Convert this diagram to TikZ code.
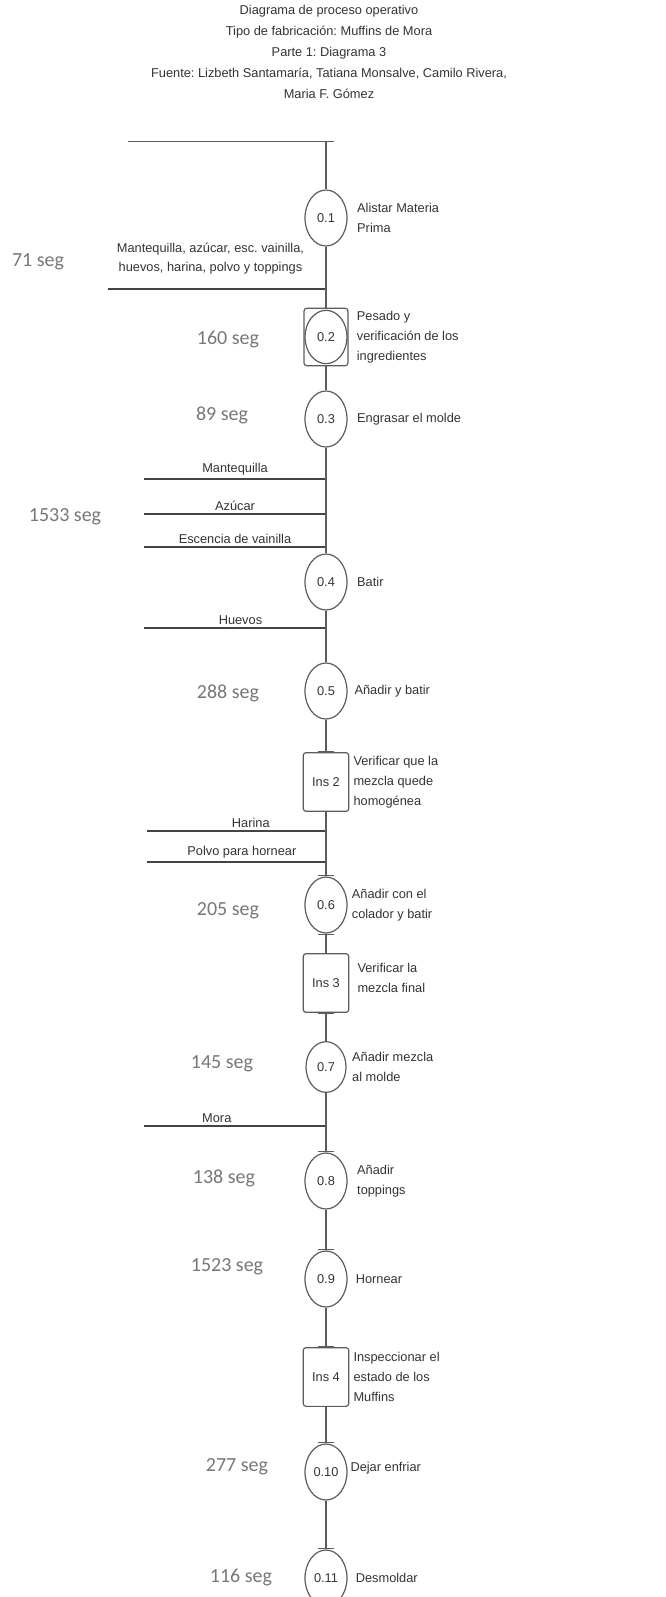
\documentclass[tikz,border=0pt]{standalone}
\usepackage{fontspec}
\setmainfont{Liberation Sans}
\newfontfamily\segfont{Carlito}
\usetikzlibrary{positioning,shapes.geometric,arrows.meta}
\definecolor{textMain}{HTML}{333333}
\definecolor{lineGray}{HTML}{5C5C5C}
\definecolor{inputDark}{HTML}{444444}
\definecolor{segGray}{HTML}{777777}
\frenchspacing

\begin{document}
\begin{tikzpicture}[
    x=0.75pt, y=-0.75pt,
    opnode/.style={ellipse, draw=lineGray, line width=0.9pt, minimum width=31.5pt,
                   minimum height=42pt, inner sep=0pt, text=textMain,
                   font=\fontsize{9.6}{11}\selectfont},
    insnode/.style={rectangle, rounded corners=2pt, draw=lineGray, line width=0.9pt,
                    minimum width=34pt, minimum height=44pt, inner sep=0pt, text=textMain,
                    font=\fontsize{9.6}{11}\selectfont},
    desc/.style={align=left, inner sep=0pt, text=textMain, font=\fontsize{9.6}{15}\selectfont},
    inlabel/.style={above, inner sep=2pt, text=textMain, align=center,
                    font=\fontsize{9.6}{14.5}\selectfont},
    seglabel/.style={text=segGray, font=\segfont\fontsize{15}{18}\selectfont},
    flow/.style={lineGray, line width=0.9pt},
    flowbar/.style={flow, -{Bar[width=12pt, line width=0.7pt]}},
    barflow/.style={flow, {Bar[width=12pt, line width=0.7pt]}-},
    inputline/.style={inputDark, line width=1.6pt},
]
    \useasboundingbox (0,0) rectangle (665,1597);

    % Title
    \node[text=textMain, align=center, font=\fontsize{9.6}{15.75}\selectfont] (title) at (329,52)
        {Diagrama de proceso operativo\\Tipo de fabricación: Muffins de Mora\\Parte 1: Diagrama 3\\
         Fuente: Lizbeth Santamaría, Tatiana Monsalve, Camilo Rivera,\\Maria F. Gómez};

    % Start line
    \coordinate (start) at (326,141);
    \coordinate (startL) at (128,141);
    \draw[lineGray, line width=0.7pt] (startL) -- (start);

    % Operations and inspections
    \node[opnode] (op1) at (326,218) {0.1};
    \node[insnode, minimum width=33pt, minimum height=43pt] (chk1) at (326,337) {};
    \node[opnode, minimum height=40pt] (op2) at (326,337) {0.2};
    \node[opnode] (op3) at (326,419) {0.3};
    \node[opnode] (op4) at (326,582) {0.4};
    \node[opnode] (op5) at (326,691) {0.5};
    \node[insnode] (ins2) at (326,782) {Ins 2};
    \node[opnode] (op6) at (326,905) {0.6};
    \node[insnode] (ins3) at (326,983) {Ins 3};
    \node[opnode, minimum width=30pt, minimum height=38pt] (op7) at (326,1067) {0.7};
    \node[opnode] (op8) at (326,1181) {0.8};
    \node[opnode] (op9) at (326,1279) {0.9};
    \node[insnode] (ins4) at (326,1377) {Ins 4};
    \node[opnode] (op10) at (326,1472) {0.10};
    \node[opnode] (op11) at (326,1578) {0.11};

    % Descriptions
    \node[desc, right=7pt of op1] (d1) {Alistar Materia\\Prima};
    \node[desc, right=6pt of chk1] (d2) {Pesado y\\verificación de los\\ingredientes};
    \node[desc, right=7pt of op3] (d3) {Engrasar el molde};
    \node[desc, right=7pt of op4] (d4) {Batir};
    \node[desc, right=5pt of op5] (d5) {Añadir y batir};
    \node[desc, right=3pt of ins2] (di2) {Verificar que la\\mezcla quede\\homogénea};
    \node[desc, right=3pt of op6] (d6) {Añadir con el\\colador y batir};
    \node[desc, right=6pt of ins3, yshift=4pt] (di3) {Verificar la\\mezcla final};
    \node[desc, right=4pt of op7] (d7) {Añadir mezcla\\al molde};
    \node[desc, right=7pt of op8] (d8) {Añadir\\toppings};
    \node[desc, right=6pt of op9] (d9) {Hornear};
    \node[desc, right=3pt of ins4] (di4) {Inspeccionar el\\estado de los\\Muffins};
    \node[desc, right=2pt of op10, yshift=3pt] (d10) {Dejar enfriar};
    \node[desc, right=6pt of op11] (d11) {Desmoldar};

    % Times
    \node[seglabel] (t1) at (38,262) {71 seg};
    \node[seglabel] (t2) at (228,339) {160 seg};
    \node[seglabel] (t3) at (222,415) {89 seg};
    \node[seglabel] (t4) at (65,517) {1533 seg};
    \node[seglabel] (t5) at (228,693) {288 seg};
    \node[seglabel] (t6) at (228,911) {205 seg};
    \node[seglabel] (t7) at (222,1064) {145 seg};
    \node[seglabel] (t8) at (224,1178) {138 seg};
    \node[seglabel] (t9) at (227,1267) {1523 seg};
    \node[seglabel] (t10) at (237,1467) {277 seg};
    \node[seglabel] (t11) at (241,1577) {116 seg};

    % Inputs
    \coordinate (jall) at (326,289);   \coordinate (jallL) at (108,289);
    \coordinate (jmant) at (326,479);  \coordinate (jmantL) at (144,479);
    \coordinate (jazu) at (326,514);   \coordinate (jazuL) at (144,514);
    \coordinate (jvai) at (326,547);   \coordinate (jvaiL) at (144,547);
    \coordinate (jhue) at (326,628);   \coordinate (jhueL) at (144,628);
    \coordinate (jhar) at (326,831);   \coordinate (jharL) at (147,831);
    \coordinate (jpol) at (326,862);   \coordinate (jpolL) at (147,862);
    \coordinate (jmora) at (326,1126); \coordinate (jmoraL) at (144,1126);

    \draw[inputline] (jallL) -- node[inlabel, pos=0.47, yshift=8pt]
        {Mantequilla, azúcar, esc. vainilla,\\huevos, harina, polvo y toppings} (jall);
    \draw[inputline] (jmantL) -- node[inlabel] {Mantequilla} (jmant);
    \draw[inputline] (jazuL) -- node[inlabel] {Azúcar} (jazu);
    \draw[inputline] (jvaiL) -- node[inlabel] {Escencia de vainilla} (jvai);
    \draw[inputline] (jhueL) -- node[inlabel, pos=0.53] {Huevos} (jhue);
    \draw[inputline] (jharL) -- node[inlabel, pos=0.58] {Harina} (jhar);
    \draw[inputline] (jpolL) -- node[inlabel, pos=0.53] {Polvo para hornear} (jpol);
    \draw[inputline] (jmoraL) -- node[inlabel, pos=0.40] {Mora} (jmora);

    % Flow
    \draw[barflow] (start) -- (op1);
    \draw[flow] (op1) -- (chk1);
    \draw[flow] (chk1) -- (op3);
    \draw[flow] (op3) -- (op4);
    \draw[flow] (op4) -- (op5);
    \draw[flowbar] (op5) -- (ins2);
    \draw[flowbar] (ins2) -- (op6);
    \draw[barflow] (op6) -- (ins3);
    \draw[barflow] (ins3) -- (op7);
    \draw[flowbar] (op7) -- (op8);
    \draw[flowbar] (op8) -- (op9);
    \draw[flowbar] (op9) -- (ins4);
    \draw[flowbar] (ins4) -- (op10);
    \draw[flowbar] (op10) -- (op11);
\end{tikzpicture}
\end{document}
